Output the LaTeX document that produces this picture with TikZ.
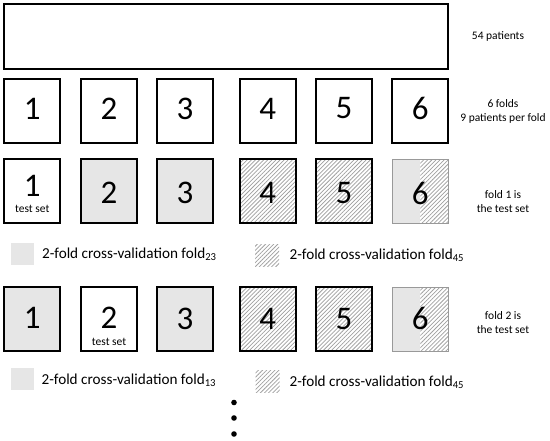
\documentclass[tikz,border=0pt]{standalone}
\usepackage{fontspec}
\setmainfont{Carlito}
\usetikzlibrary{patterns.meta}
\definecolor{fillgray}{HTML}{E6E6E6}
\definecolor{hatchgray}{HTML}{A0A0A0}
\begin{document}
\begin{tikzpicture}[x=1pt,y=-1pt,
  fold/.style={draw=black,line width=1.8pt,minimum width=56pt,minimum height=64pt,inner sep=0pt},
  plainbox/.style={fold,fill=white},
  graybox/.style={fold,fill=fillgray},
  hatchpat/.style={preaction={fill=white},pattern={Lines[angle=45,distance=2.9pt,line width=0.75pt]},pattern color=hatchgray},
  hatchbox/.style={fold,hatchpat},
  halfgray/.style={fill=fillgray,draw=none},
  halfhatch/.style={draw=none,hatchpat},
  thinbox/.style={draw=gray!80,line width=0.7pt,minimum width=56pt,minimum height=64pt,inner sep=0pt},
  digit/.style={font=\fontsize{33}{33}\selectfont,inner sep=0pt},
  testlbl/.style={font=\fontsize{11.5}{13}\selectfont,inner sep=0pt},
  note/.style={font=\fontsize{11.5}{14}\selectfont,align=center,inner sep=0pt},
  legtext/.style={font=\fontsize{15.2}{18}\selectfont,anchor=west,inner sep=0pt},
  legsq/.style={minimum width=23pt,minimum height=22pt,inner sep=0pt,draw=none},
  dot/.style={circle,fill=black,minimum size=5.6pt,inner sep=0pt}
]
\useasboundingbox (0,0) rectangle (550,440);

% all patients
\node[draw=black,line width=1.8pt,minimum width=444pt,minimum height=65pt,inner sep=0pt] (all) at (226.3,36.5) {};
\node[note] (t54) at (498,36) {54 patients};

% row 1: six folds
\foreach \i/\x in {1/32.3,2/109.1,3/184.9,4/267.7,5/343.9,6/420.3}{
  \node[plainbox] (a\i) at (\x,111) {};
  \node[digit] (ad\i) at (\x,108.5) {\i};
}
\node[note] (tfolds) at (503,111) {6 folds\\9 patients per fold};

% row 2: fold 1 is test set
\node[plainbox] (b1) at (32.3,191) {};
\node[digit] (bd1) at (32.3,185.5) {1};
\node[testlbl] (bt1) at (32.3,209) {test set};
\node[graybox] (b2) at (109.1,191) {};
\node[digit] (bd2) at (109.1,193) {2};
\node[graybox] (b3) at (184.9,191) {};
\node[digit] (bd3) at (184.9,193) {3};
\node[hatchbox] (b4) at (267.7,191) {};
\node[digit] (bd4) at (267.7,193) {4};
\node[hatchbox] (b5) at (343.9,191) {};
\node[digit] (bd5) at (343.9,193) {5};
\path[halfgray] (392.3,159) rectangle (420.3,223);
\path[halfhatch] (420.3,159) rectangle (448.3,223);
\node[thinbox] (b6) at (420.3,191) {};
\node[digit] (bd6) at (420.3,193) {6};
\node[note] (tb) at (503,202) {fold 1 is\\the test set};

% legend 1
\node[legsq,fill=fillgray] (lg1) at (22,254) {};
\node[legtext] (lt1) at (42,254) {2-fold cross-validation fold\textsubscript{23}};
\node[legsq,minimum width=24pt,hatchpat] (lh1) at (267,255) {};
\node[legtext] (lt2) at (289.5,255) {2-fold cross-validation fold\textsubscript{45}};

% row 3: fold 2 is test set
\node[graybox] (c1) at (32.3,319) {};
\node[digit] (cd1) at (32.3,318) {1};
\node[plainbox] (c2) at (109.1,319) {};
\node[digit] (cd2) at (109.1,317.5) {2};
\node[testlbl] (ct2) at (109.1,342) {test set};
\node[graybox] (c3) at (184.9,319) {};
\node[digit] (cd3) at (184.9,319) {3};
\node[hatchbox] (c4) at (267.7,319) {};
\node[digit] (cd4) at (267.7,319) {4};
\node[hatchbox] (c5) at (343.9,319) {};
\node[digit] (cd5) at (343.9,319) {5};
\path[halfgray] (392.3,287) rectangle (420.3,351);
\path[halfhatch] (420.3,287) rectangle (448.3,351);
\node[thinbox] (c6) at (420.3,319) {};
\node[digit] (cd6) at (420.3,318) {6};
\node[note] (tc) at (503,323) {fold 2 is\\the test set};

% legend 2
\node[legsq,fill=fillgray] (lg2) at (22,379) {};
\node[legtext] (lt3) at (41.5,380) {2-fold cross-validation fold\textsubscript{13}};
\node[legsq,minimum width=24pt,hatchpat] (lh2) at (267.5,381) {};
\node[legtext] (lt4) at (289.5,382) {2-fold cross-validation fold\textsubscript{45}};

% dots
\node[dot] (d1) at (234,402.5) {};
\node[dot] (d2) at (234,418) {};
\node[dot] (d3) at (234,434) {};
\end{tikzpicture}
\end{document}
